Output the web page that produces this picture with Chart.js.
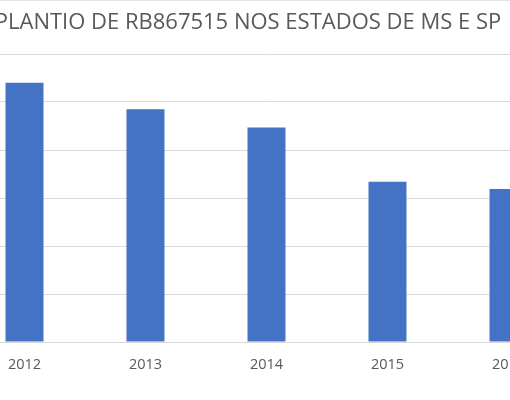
<!DOCTYPE html>
<html>
<head>
<meta charset="utf-8">
<script src="https://cdn.jsdelivr.net/npm/chart.js@4/dist/chart.umd.min.js"></script>
<style>
  html, body { margin: 0; padding: 0; background: #fff; overflow: hidden; }
  #wrap { position: relative; width: 510px; height: 400px; overflow: hidden; border-top: 1px solid #e4e4e4; box-sizing: border-box; }
  #chart { position: absolute; left: -36px; top: -1px; }
</style>
</head>
<body>
<div id="wrap">
  <canvas id="chart" width="605" height="400"></canvas>
</div>
<script>
// Plantio de RB867515
const titulo = 'PLANTIO DE RB867515 NOS ESTADOS DE MS E SP';
const anos = ['2012', '2013', '2014', '2015', '2016'];
const valores = [5.40, 4.85, 4.47, 3.34, 3.19];
const eixoY = { min: 0, max: 6, passo: 1 };

// título desenhado à mão (o gráfico original está cortado nas laterais)
const tituloPlugin = {
  id: 'tituloCortado',
  afterDraw(chart) {
    const ctx = chart.ctx;
    ctx.save();
    ctx.font = '22px "Open Sans"';
    ctx.fillStyle = '#595959';
    ctx.textAlign = 'center';
    ctx.textBaseline = 'middle';
    ctx.fillText(titulo, 284, 23);
    ctx.restore();
  }
};

new Chart(document.getElementById('chart'), {
  type: 'bar',
  data: {
    labels: anos,
    datasets: [{
      data: valores,
      backgroundColor: '#4472C4',
      barPercentage: 0.314,
      categoryPercentage: 1
    }]
  },
  options: {
    responsive: false,
    animation: false,
    layout: { padding: { top: 54, left: 0, right: 0 } },
    plugins: {
      legend: { display: false },
      title: { display: false },
      tooltip: { enabled: false }
    },
    scales: {
      x: {
        grid: { display: false },
        border: { display: false },
        ticks: {
          color: '#595959',
          font: { family: '"Open Sans"', size: 14.5 },
          padding: 6,
          maxRotation: 0
        },
        afterFit(scale) { scale.height = 58; }
      },
      y: {
        min: eixoY.min,
        max: eixoY.max,
        ticks: { display: false, stepSize: eixoY.passo },
        grid: { color: '#d9d9d9', drawTicks: false },
        border: { display: false },
        afterFit(scale) { scale.width = 0; }
      }
    }
  },
  plugins: [tituloPlugin]
});
</script>
</body>
</html>
